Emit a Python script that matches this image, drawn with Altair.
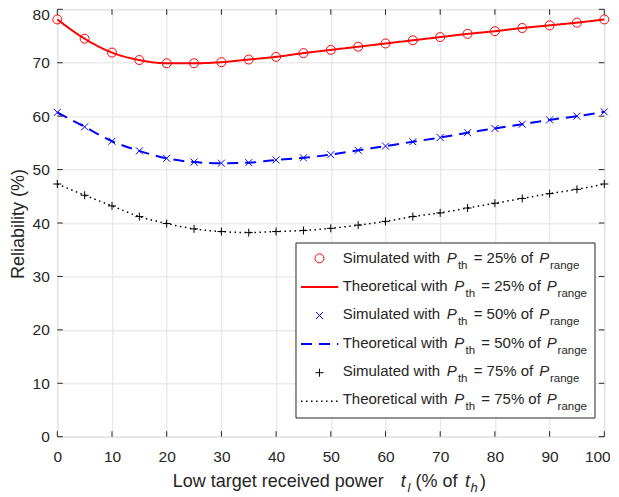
import altair as alt
import pandas as pd

# ---------------- data ----------------
x_vals = list(range(0, 101, 5))
rel_25 = [78.1, 74.5, 71.9, 70.5, 69.9, 69.9, 70.1, 70.6, 71.1, 71.8, 72.4,
          73.0, 73.6, 74.2, 74.8, 75.4, 75.9, 76.5, 77.0, 77.5, 78.1]
rel_50 = [60.7, 58.0, 55.3, 53.5, 52.1, 51.4, 51.2, 51.3, 51.8, 52.2, 52.8,
          53.6, 54.4, 55.2, 56.0, 56.9, 57.7, 58.5, 59.3, 60.0, 60.8]
rel_75 = [47.3, 45.2, 43.2, 41.2, 39.9, 38.9, 38.4, 38.2, 38.4, 38.6, 39.0,
          39.6, 40.3, 41.2, 41.9, 42.8, 43.7, 44.6, 45.5, 46.3, 47.3]
series_keys = ["25%", "50%", "75%"]
x_ticks = list(range(0, 101, 10))
y_ticks = list(range(0, 81, 10))

# ---------------- layout ----------------
OX, OY = 57.3, 9.3          # plot origin on page
W, H = 547, 436.7 - OY
FONT = "Liberation Sans"
TXT = "#262626"

df = pd.DataFrame({
    "x": x_vals * 3,
    "y": rel_25 + rel_50 + rel_75,
    "s": [series_keys[0]] * len(x_vals) + [series_keys[1]] * len(x_vals) + [series_keys[2]] * len(x_vals),
})

xs = alt.Scale(domain=[0, 100], nice=False, zero=False)
ys = alt.Scale(domain=[0, 80], nice=False, zero=False)

xaxis = alt.Axis(values=x_ticks, title=None, grid=True, ticks=False, tickSize=0,
                 domain=False, labelPadding=12.5, labelFontSize=15.5, labelColor=TXT,
                 labelFont=FONT, gridColor="#e3e3e3", gridWidth=1, labelFlush=False,
                 labelOverlap=False, format="d",
                 labelOffset={"condition": {"test": "datum.value === 100", "value": -7}, "value": 0})
yaxis = alt.Axis(values=y_ticks, title="Reliability (%)", grid=True, ticks=False, tickSize=0,
                 domain=False, labelPadding=8, labelFontSize=15.5, labelColor=TXT,
                 labelFont=FONT, gridColor="#e3e3e3", gridWidth=1, labelOverlap=False,
                 format="d", titleFont=FONT, titleFontSize=18, titleFontWeight="normal",
                 titleColor=TXT, titleX=-34, titleY=(223.5 - OY), titleAngle=270,
                 titleAlign="center", titleBaseline="alphabetic",
                 labelOffset={"condition": {"test": "datum.value === 80", "value": 5.5}, "value": 0})

X = alt.X("x:Q", scale=xs, axis=xaxis)
Y = alt.Y("y:Q", scale=ys, axis=yaxis)

XPATH = "M-1,-1L1,1M-1,1L1,-1"
PPATH = "M-1,0L1,0M0,-1L0,1"

styles = {
    "25%": dict(color="#ff0000", dash=[1, 0], shape="circle", size=81),
    "50%": dict(color="#0000ff", dash=[11, 7], shape=XPATH, size=49),
    "75%": dict(color="#000000", dash=[1.5, 3.5], shape=PPATH, size=64),
}
lw = {"25%": 2, "50%": 2, "75%": 1.5}

layers = []
for k in series_keys:
    st = styles[k]
    base = alt.Chart(df).transform_filter(alt.datum.s == k)
    layers.append(base.mark_line(color=st["color"], strokeWidth=lw[k], strokeDash=st["dash"],
                                 interpolate="monotone", strokeCap="butt").encode(x=X, y=Y))
for k in series_keys:
    st = styles[k]
    base = alt.Chart(df).transform_filter(alt.datum.s == k)
    layers.append(base.mark_point(shape=st["shape"], size=st["size"], filled=False,
                                  color=st["color"], strokeWidth=1, opacity=1).encode(x=X, y=Y))

# inward ticks on all four sides
xt = pd.DataFrame({"xt": x_ticks})
yt = pd.DataFrame({"yt": y_ticks})
XT = alt.X("xt:Q", scale=xs, axis=xaxis)
YT = alt.Y("yt:Q", scale=ys, axis=yaxis)
layers.append(alt.Chart(xt).mark_rule(color=TXT, strokeWidth=1).encode(x=XT, y=alt.value(H), y2=alt.value(H - 5.5)))
layers.append(alt.Chart(xt).mark_rule(color=TXT, strokeWidth=1).encode(x=XT, y=alt.value(0), y2=alt.value(5.5)))
layers.append(alt.Chart(yt).mark_rule(color=TXT, strokeWidth=1).encode(y=YT, x=alt.value(0), x2=alt.value(5.5)))
layers.append(alt.Chart(yt).mark_rule(color=TXT, strokeWidth=1).encode(y=YT, x=alt.value(W), x2=alt.value(W - 5.5)))

ONE = alt.Data(values=[{"a": 1}])


def txt(s, x, y, size=15, style="normal"):
    return alt.Chart(ONE).mark_text(text=s, fontSize=size, fontStyle=style, font=FONT,
                                    color=TXT, align="left", baseline="alphabetic").encode(
        x=alt.value(x - OX), y=alt.value(y - OY))


# x-axis title with subscripts
xb = 487.3
layers += [
    txt("Low target received power", 172.7, xb, 18),
    txt("t", 400.7, xb, 18, "italic"),
    txt("l", 407.6, xb + 4.4, 13, "italic"),
    txt("(% of", 415.5, xb, 18),
    txt("t", 465.0, xb, 18, "italic"),
    txt("h", 470.5, xb + 4.4, 13, "italic"),
    txt(")", 480.0, xb, 18),
]

# legend box
layers.append(alt.Chart(ONE).mark_rect(fill="white", stroke=TXT, strokeWidth=1).encode(
    x=alt.value(296 - OX), x2=alt.value(595 - OX), y=alt.value(243 - OY), y2=alt.value(418 - OY)))

rows = []
for k in series_keys:
    rows.append(("Simulated with", k, "sym"))
    rows.append(("Theoretical with", k, "line"))

for i, (prefix, k, kind) in enumerate(rows):
    st = styles[k]
    base_y = 262.7 + 28.3 * i
    sym_y = 258.3 + 28.6 * i
    if kind == "sym":
        layers.append(alt.Chart(ONE).mark_point(shape=st["shape"], size=st["size"], filled=False,
                                                color=st["color"], strokeWidth=1, opacity=1).encode(
            x=alt.value(319.5 - OX), y=alt.value(sym_y - OY)))
        p1 = 446.7
    else:
        layers.append(alt.Chart(ONE).mark_rule(color=st["color"], strokeWidth=lw[k],
                                               strokeDash=st["dash"], strokeCap="butt").encode(
            x=alt.value(301 - OX), x2=alt.value(338.3 - OX), y=alt.value(sym_y - OY)))
        p1 = 454.3
    th = p1 + 11.2
    eq = th + 15.8
    p2 = eq + 65.5
    rg = p2 + 10.8
    layers += [
        txt(prefix, 342.7, base_y, 15),
        txt("P", p1, base_y, 15, "italic"),
        txt("th", th, base_y + 6, 11.5),
        txt("= " + k + " of", eq, base_y, 15),
        txt("P", p2, base_y, 15, "italic"),
        txt("range", rg, base_y + 6, 11.5),
    ]

chart = alt.layer(*layers).properties(
    width=W, height=H,
    padding={"left": OX - 8, "top": OY - 8, "right": 6, "bottom": 489 - (OY - 8) - H},
    autosize=alt.AutoSizeParams(type="none"),
).configure_view(stroke=TXT, strokeWidth=1).configure(background="white")

chart.save("out.html", embed_options={"renderer": "svg", "actions": False})
